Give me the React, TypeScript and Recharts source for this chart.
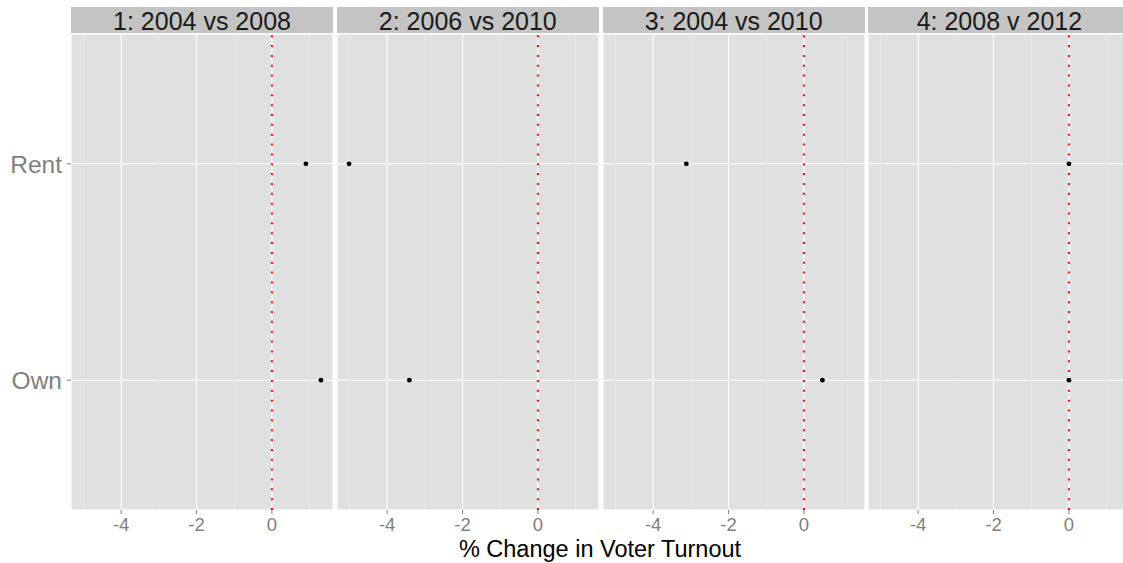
import React from "react";
import { ScatterChart, Scatter, XAxis, YAxis, CartesianGrid, ReferenceLine } from "recharts";

const panelTitles = ["1: 2004 vs 2008", "2: 2006 vs 2010", "3: 2004 vs 2010", "4: 2008 v 2012"];
const categories = ["Own", "Rent"];
const ownChange = [1.3, -3.41, 0.49, 0.0];
const rentChange = [0.9, -5.01, -3.12, 0.0];
const xTicks = [-4, -2, 0];
const xMinorTicks = [-5, -3, -1, 1];
const xDomain: [number, number] = [-5.33, 1.62];
const yDomain: [number, number] = [-0.6, 1.6];
const axisTitle = "% Change in Voter Turnout";

const FONT = "'Liberation Sans', Arial, Helvetica, sans-serif";
const PANEL_BG = "#E0E0E0";
const STRIP_BG = "#C4C4C4";
const TICK_COL = "#7F7F7F";

const PANEL_W = 262;
const PANEL_STEP = 265.8;
const PANEL_LEFT0 = 71;
const Y_AXIS_W = 71;
const TOP = 34;
const H = 563;
const X_AXIS_H = 53;

const Dot = (props: any) => {
  const { cx, cy } = props;
  if (cx == null || cy == null) return null;
  return <circle cx={cx} cy={cy} r={2.4} fill="#000" />;
};

function Panel({ idx }: { idx: number }) {
  const data = [
    { x: ownChange[idx], y: 0 },
    { x: rentChange[idx], y: 1 },
  ];
  const first = idx === 0;
  const left = PANEL_LEFT0 + idx * PANEL_STEP - (first ? Y_AXIS_W : 0);
  const width = PANEL_W + (first ? Y_AXIS_W : 0);
  return (
    <div style={{ position: "absolute", left, top: 0, width, height: H }}>
      <ScatterChart width={width} height={H} margin={{ top: TOP, right: 0, bottom: 0, left: 0 }}>
        <CartesianGrid fill={PANEL_BG} fillOpacity={1} stroke="#FFFFFF" strokeWidth={1.1} />
        {xMinorTicks.map((v) => (
          <ReferenceLine key={v} x={v} stroke="#EBEBEB" strokeWidth={0.7} ifOverflow="hidden" />
        ))}
        <XAxis
          type="number"
          dataKey="x"
          domain={xDomain}
          allowDataOverflow
          ticks={xTicks}
          interval={0}
          height={X_AXIS_H}
          axisLine={false}
          tickSize={4}
          tickMargin={4}
          tickLine={{ stroke: TICK_COL, strokeWidth: 1 }}
          tick={{ fill: TICK_COL, fontSize: 18.5 }}
          tickFormatter={(v: number) => String(v)}
        />
        <YAxis
          type="number"
          dataKey="y"
          domain={yDomain}
          allowDataOverflow
          ticks={[0, 1]}
          interval={0}
          hide={!first}
          width={Y_AXIS_W}
          axisLine={false}
          tickSize={4}
          tickMargin={5}
          tickLine={{ stroke: TICK_COL, strokeWidth: 1 }}
          tick={{ fill: TICK_COL, fontSize: 24.5 }}
          tickFormatter={(v: number) => categories[v] ?? ""}
        />
        <ReferenceLine x={0} stroke="#FF0000" strokeWidth={2} strokeDasharray="2 7.85" />
        <Scatter data={data} isAnimationActive={false} shape={Dot} />
      </ScatterChart>
    </div>
  );
}

export default function App() {
  return (
    <div
      style={{
        position: "absolute",
        left: 0,
        top: 0,
        width: 1123,
        height: H,
        overflow: "hidden",
        background: "#FFFFFF",
        fontFamily: FONT,
      }}
    >
      {panelTitles.map((t, i) => (
        <div
          key={"strip" + i}
          style={{
            position: "absolute",
            left: PANEL_LEFT0 + i * PANEL_STEP,
            top: 7,
            width: PANEL_W,
            height: 26,
            background: STRIP_BG,
          }}
        />
      ))}
      {panelTitles.map((t, i) => (
        <div
          key={"stripText" + i}
          style={{
            position: "absolute",
            left: PANEL_LEFT0 + i * PANEL_STEP,
            top: 6,
            width: PANEL_W,
            color: "#1A1A1A",
            fontSize: 25,
            lineHeight: "30px",
            textAlign: "center",
            whiteSpace: "nowrap",
          }}
        >
          {t}
        </div>
      ))}
      {panelTitles.map((_, i) => (
        <Panel key={"p" + i} idx={i} />
      ))}
      <div
        style={{
          position: "absolute",
          left: 300,
          top: 540,
          width: 600,
          textAlign: "center",
          fontSize: 23.5,
          lineHeight: "18px",
          color: "#000",
          whiteSpace: "nowrap",
        }}
      >
        {axisTitle}
      </div>
    </div>
  );
}
